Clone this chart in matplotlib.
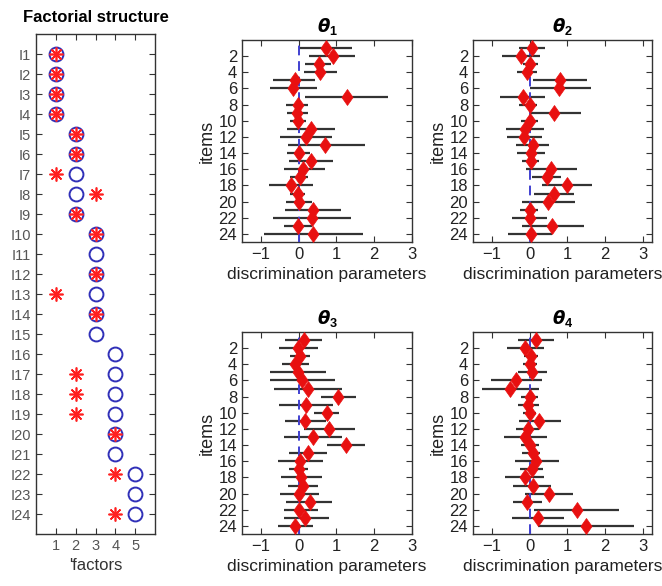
import numpy as np
import matplotlib
matplotlib.use("Agg")
import matplotlib.pyplot as plt
from matplotlib.path import Path

plt.rcParams['font.family'] = ['Liberation Sans', 'DejaVu Sans']
plt.rcParams['mathtext.fontset'] = 'custom'
plt.rcParams['mathtext.it'] = 'DejaVu Sans:italic:bold'
plt.rcParams['mathtext.rm'] = 'Liberation Sans:bold'

items = np.arange(1, 25)
item_labels = [f"I{i}" for i in items]

# factorial structure: true factor (circle) and estimated factor (asterisk)
true_factor = [1, 1, 1, 1, 2, 2, 2, 2, 2, 3, 3, 3, 3, 3, 3, 4, 4, 4, 4, 4, 4, 5, 5, 5]
est_factor = [1, 1, 1, 1, 2, 2, 1, 3, 2, 3, np.nan, 3, 1, 3, np.nan, np.nan,
              2, 2, 2, 4, np.nan, 4, np.nan, 4]

# discrimination parameters: estimate, lower and upper bounds
theta1_est = [0.72, 0.91, 0.53, 0.56, -0.11, -0.14, 1.27, -0.02, -0.04, -0.02, 0.32, 0.19,
              0.70, 0.00, 0.32, 0.12, 0.04, -0.20, -0.03, 0.01, 0.39, 0.34, -0.03, 0.37]
theta1_lo = [0.00, 0.28, 0.18, 0.13, -0.67, -0.75, 0.17, -0.33, -0.32, -0.23, -0.31, -0.49,
             -0.29, -0.31, -0.25, -0.39, -0.22, -0.79, -0.23, -0.34, -0.37, -0.67, -0.39, -0.92]
theta1_hi = [1.40, 1.50, 0.85, 1.02, 0.43, 0.48, 2.36, 0.26, 0.26, 0.19, 0.96, 0.87,
             1.75, 0.31, 0.91, 0.69, 0.26, 0.39, 0.18, 0.34, 1.13, 1.38, 0.34, 1.69]

theta2_est = [0.07, -0.23, 0.01, -0.07, 0.82, 0.77, -0.18, 0.00, 0.64, 0.02, -0.12, -0.14,
              0.10, 0.04, 0.04, 0.57, 0.46, 0.99, 0.64, 0.48, 0.01, 0.01, 0.60, 0.03]
theta2_lo = [-0.28, -0.72, -0.18, -0.32, 0.09, 0.00, -0.78, -0.28, 0.03, -0.22, -0.63, -0.59,
             -0.35, -0.34, -0.19, -0.10, 0.07, 0.32, 0.11, -0.21, -0.24, -0.46, -0.19, -0.57]
theta2_hi = [0.40, 0.29, 0.23, 0.19, 1.52, 1.63, 0.40, 0.20, 1.36, 0.23, 0.39, 0.33,
             0.53, 0.42, 0.26, 1.25, 0.84, 1.67, 1.19, 1.21, 0.23, 0.46, 1.45, 0.60]

theta3_est = [0.13, -0.03, 0.04, -0.09, -0.03, 0.09, 0.25, 1.05, 0.19, 0.75, 0.18, 0.81,
              0.37, 1.25, 0.24, 0.04, 0.00, 0.06, 0.11, 0.00, 0.30, 0.02, 0.18, -0.10]
theta3_lo = [-0.35, -0.51, -0.23, -0.45, -0.75, -0.77, -0.66, 0.60, -0.53, 0.41, -0.36, 0.15,
             -0.39, 0.75, -0.26, -0.55, -0.25, -0.46, -0.29, -0.49, -0.33, -0.38, -0.40, -0.54]
theta3_hi = [0.61, 0.50, 0.30, 0.28, 0.72, 0.96, 1.16, 1.51, 0.91, 1.07, 0.72, 1.49,
             1.14, 1.75, 0.74, 0.65, 0.24, 0.61, 0.50, 0.53, 0.89, 0.50, 0.79, 0.39]

theta4_est = [0.18, -0.11, 0.05, 0.00, 0.07, -0.35, -0.51, 0.02, -0.04, 0.00, 0.26, -0.04,
              -0.11, 0.00, 0.09, 0.18, 0.07, -0.13, 0.09, 0.53, -0.06, 1.27, 0.22, 1.49]
theta4_lo = [-0.31, -0.60, -0.15, -0.16, -0.31, -1.03, -1.25, -0.22, -0.31, -0.16, -0.29, -0.35,
             -0.68, -0.22, -0.19, -0.39, -0.25, -0.66, -0.44, -0.13, -0.44, 0.13, -0.46, 0.22]
theta4_hi = [0.66, 0.39, 0.22, 0.19, 0.46, 0.33, 0.25, 0.22, 0.25, 0.18, 0.83, 0.26,
             0.46, 0.26, 0.28, 0.77, 0.37, 0.39, 0.57, 1.16, 0.33, 2.37, 0.92, 2.76]

panel_titles = [r'$\theta_{\mathrm{1}}$', r'$\theta_{\mathrm{2}}$',
                r'$\theta_{\mathrm{3}}$', r'$\theta_{\mathrm{4}}$']

W, H = 662, 586
fig = plt.figure(figsize=(W / 100, H / 100), dpi=100)


def px_axes(x0, y0, x1, y1):
    return fig.add_axes([x0 / W, 1 - y1 / H, (x1 - x0) / W, (y1 - y0) / H])


def style_box(ax):
    for s in ax.spines.values():
        s.set_color('#333333')
        s.set_linewidth(1.0)
    ax.tick_params(direction='in', top=True, right=True, length=4,
                   color='#333333', labelcolor='#222222')


# Factorial structure panel
ax0 = px_axes(36, 34, 155, 534)
ax0.plot(true_factor, items, 'o', ms=10, mfc='none', mec='#3030b8', mew=1.4, ls='none')
ax0.plot(est_factor, items, ls='none', marker=(8, 2, 0), ms=10, mec='#ff2020', mew=1.2)
ax0.set_xlim(0, 6)
ax0.set_ylim(25, 0)
ax0.set_xticks([1, 2, 3, 4, 5])
ax0.set_yticks(items)
ax0.set_yticklabels(item_labels)
style_box(ax0)
ax0.tick_params(labelsize=10.5, labelcolor='#555555')
ax0.set_xlabel("'factors", fontsize=12, color='#333333', labelpad=4)
ax0.set_title('Factorial structure', fontsize=12, fontweight='bold', pad=9)

# diamond marker, taller than wide
diamond = Path([(0, 1), (0.7, 0), (0, -1), (-0.7, 0), (0, 1)],
               [Path.MOVETO, Path.LINETO, Path.LINETO, Path.LINETO, Path.CLOSEPOLY])

panels = [
    (theta1_est, theta1_lo, theta1_hi, (242, 40, 412, 242), (-1.5, 3.0)),
    (theta2_est, theta2_lo, theta2_hi, (473, 40, 652, 242), (-1.5, 3.25)),
    (theta3_est, theta3_lo, theta3_hi, (242, 332, 412, 534), (-1.5, 3.0)),
    (theta4_est, theta4_lo, theta4_hi, (473, 332, 652, 534), (-1.5, 3.25)),
]

for (est, lo, hi, box, xl), title in zip(panels, panel_titles):
    ax = px_axes(*box)
    ax.hlines(items, lo, hi, colors='#333333', lw=1.6, zorder=2)
    ax.axvline(0, color='#4040d0', ls=(0, (5, 3)), lw=1.4, zorder=3)
    ax.plot(est, items, ls='none', marker=diamond, ms=11.5, mfc='#e81010',
            mec='#e81010', mew=0.5, zorder=4)
    ax.set_xlim(*xl)
    ax.set_ylim(25, 0)
    ax.set_xticks([-1, 0, 1, 2, 3])
    ax.set_yticks(np.arange(2, 25, 2))
    style_box(ax)
    ax.tick_params(labelsize=12)
    ax.set_ylabel('items', fontsize=13, color='#222222', labelpad=2)
    ax.set_xlabel('discrimination parameters', fontsize=12.5, color='#222222', labelpad=4)
    ax.set_title(title, fontsize=13, pad=6)

fig.savefig('out.png', dpi=100)
